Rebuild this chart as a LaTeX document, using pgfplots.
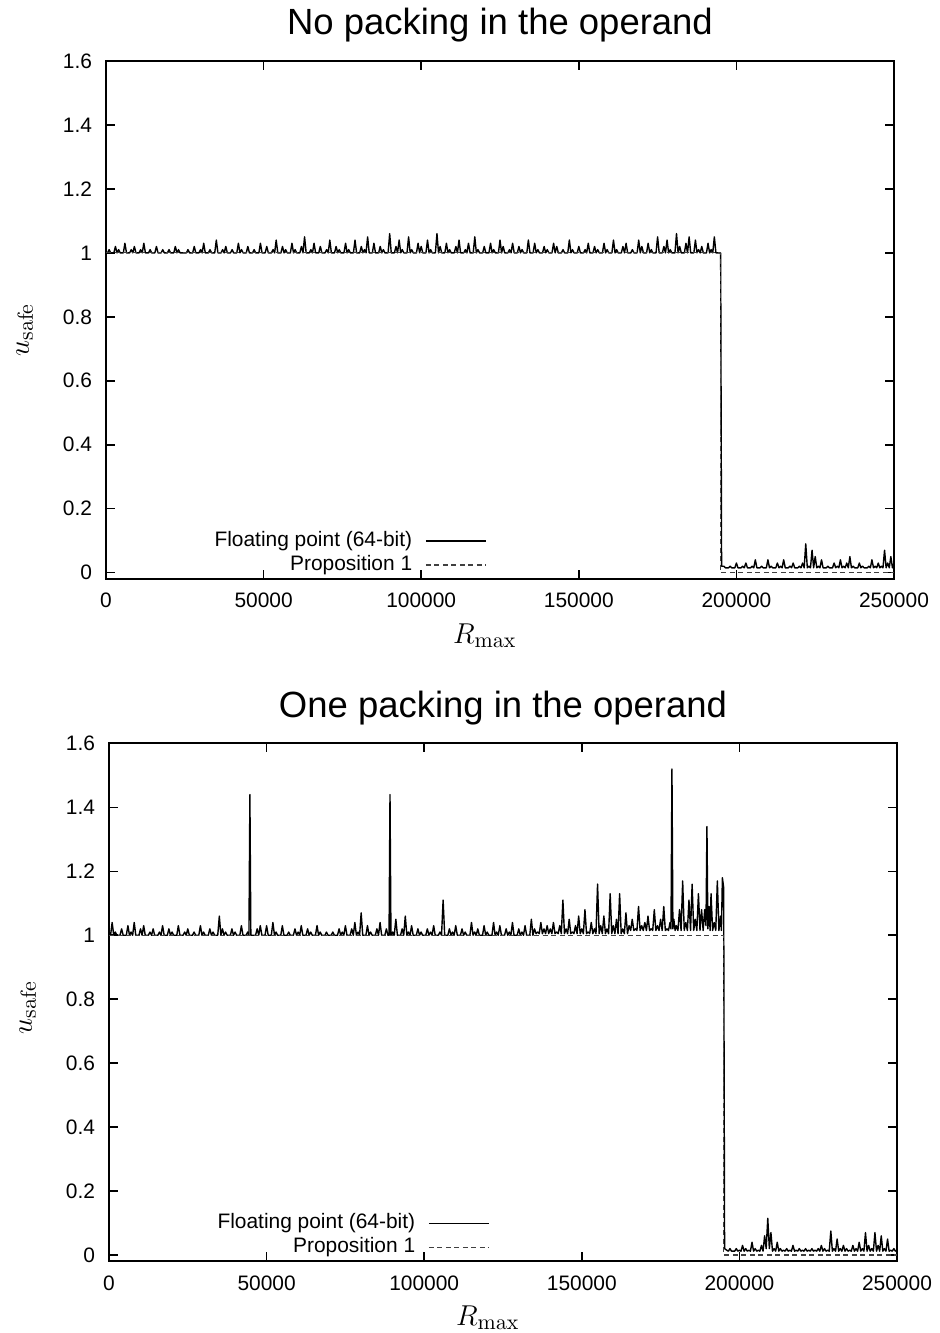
\documentclass[border=0pt]{standalone}
\usepackage[no-math]{fontspec}
\setmainfont{Liberation Sans}
\usepackage{pgfplots}
\usepackage{pgfplotstable}
\pgfplotsset{compat=1.18}

% axis labels: italic symbol with a lowered upright subscript
\newcommand\symlabel[2]{{\fontsize{13.5}{16}\selectfont$#1$}\raisebox{-2bp}{\fontsize{10.8}{13}\selectfont$\mathrm{#2}$}}

\pgfplotsset{
  safeaxis/.style={
    scale only axis, width=394bp, height=259bp,
    xmin=0, xmax=250000, ymin=-0.02, ymax=1.6,
    xtick={0,50000,100000,150000,200000,250000},
    xticklabels={0,50000,100000,150000,200000,250000},
    ytick={0,0.2,0.4,0.6,0.8,1,1.2,1.4,1.6},
    yticklabels={0,0.2,0.4,0.6,0.8,1,1.2,1.4,1.6},
    minor tick num=0,
    scaled x ticks=false,
    tick align=inside,
    major tick length=4.5bp,
    every tick/.style={black, line width=0.8bp},
    axis line style={line width=1bp},
    tick label style={font=\fontsize{10.5}{12}\selectfont},
    xticklabel style={yshift=-3.5bp},
    yticklabel style={xshift=-3.5bp},
    every axis title shift=0pt,
    title style={font=\fontsize{18.3}{21}\selectfont, anchor=base, at={(0.5,1)}, yshift=13bp},
    legend plot pos=right,
    legend cell align=right,
    legend style={draw=none, fill=none, anchor=south east, inner sep=0pt,
      font=\fontsize{10.5}{12}\selectfont, column sep=5.5bp, row sep=0pt,
      nodes={inner sep=1bp, text height=7.6bp, text depth=2.4bp}},
    legend image code/.code={\draw[##1] (0bp,0bp) -- (30bp,0bp);},
    xlabel={\symlabel{R}{max}},
    ylabel={\symlabel{u}{safe}},
    xlabel style={anchor=base},
    ylabel style={anchor=base},
  },
  fpline/.style={black, line width=0.7bp, line join=round},
  propline/.style={black!75, line width=0.6bp, dash pattern=on 2.5bp off 1.75bp},
}

\begin{document}

% u_safe, floating point, no packing (x in thousands)
\pgfplotstableread[row sep=\\]{
k y\\
0 1.00\\0.5 1.00\\1 1.01\\1.5 1.00\\2 1.00\\2.5 1.00\\3 1.02\\3.5 1.00\\4 1.01\\4.5 1.00\\
5 1.00\\5.5 1.00\\6 1.03\\6.5 1.00\\7 1.00\\7.5 1.00\\8 1.01\\8.5 1.00\\9 1.02\\9.5 1.00\\
10 1.00\\10.5 1.00\\11 1.01\\11.5 1.00\\12 1.03\\12.5 1.00\\13 1.00\\13.5 1.00\\14 1.01\\14.5 1.00\\
15 1.00\\15.5 1.00\\16 1.02\\16.5 1.00\\17 1.00\\17.5 1.00\\18 1.01\\18.5 1.00\\19 1.00\\19.5 1.00\\
20 1.01\\20.5 1.00\\21 1.00\\21.5 1.00\\22 1.02\\22.5 1.00\\23 1.01\\23.5 1.00\\24 1.00\\24.5 1.00\\
25 1.00\\25.5 1.00\\26 1.01\\26.5 1.00\\27 1.00\\27.5 1.00\\28 1.02\\28.5 1.00\\29 1.00\\29.5 1.00\\
30 1.01\\30.5 1.00\\31 1.03\\31.5 1.00\\32 1.00\\32.5 1.00\\33 1.01\\33.5 1.00\\34 1.00\\34.5 1.00\\
35 1.04\\35.5 1.00\\36 1.00\\36.5 1.00\\37 1.01\\37.5 1.00\\38 1.02\\38.5 1.00\\39 1.00\\39.5 1.00\\
40 1.01\\40.5 1.00\\41 1.00\\41.5 1.00\\42 1.03\\42.5 1.00\\43 1.01\\43.5 1.00\\44 1.00\\44.5 1.00\\
45 1.02\\45.5 1.00\\46 1.00\\46.5 1.00\\47 1.01\\47.5 1.00\\48 1.00\\48.5 1.00\\49 1.03\\49.5 1.00\\
50 1.00\\50.5 1.00\\51 1.02\\51.5 1.00\\52 1.00\\52.5 1.00\\53 1.01\\53.5 1.00\\54 1.04\\54.5 1.00\\
55 1.00\\55.5 1.00\\56 1.02\\56.5 1.00\\57 1.01\\57.5 1.00\\58 1.00\\58.5 1.00\\59 1.03\\59.5 1.00\\
60 1.01\\60.5 1.00\\61 1.00\\61.5 1.00\\62 1.02\\62.5 1.00\\63 1.05\\63.5 1.00\\64 1.00\\64.5 1.00\\
65 1.01\\65.5 1.00\\66 1.03\\66.5 1.00\\67 1.00\\67.5 1.00\\68 1.02\\68.5 1.00\\69 1.00\\69.5 1.00\\
70 1.01\\70.5 1.00\\71 1.04\\71.5 1.00\\72 1.00\\72.5 1.00\\73 1.02\\73.5 1.00\\74 1.01\\74.5 1.00\\
75 1.00\\75.5 1.00\\76 1.03\\76.5 1.00\\77 1.01\\77.5 1.00\\78 1.00\\78.5 1.00\\79 1.04\\79.5 1.00\\
80 1.00\\80.5 1.00\\81 1.02\\81.5 1.00\\82 1.01\\82.5 1.00\\83 1.05\\83.5 1.00\\84 1.00\\84.5 1.00\\
85 1.03\\85.5 1.00\\86 1.00\\86.5 1.00\\87 1.02\\87.5 1.00\\88 1.01\\88.5 1.00\\89 1.00\\89.5 1.00\\
90 1.06\\90.5 1.00\\91 1.00\\91.5 1.00\\92 1.02\\92.5 1.00\\93 1.04\\93.5 1.00\\94 1.01\\94.5 1.00\\
95 1.00\\95.5 1.00\\96 1.05\\96.5 1.00\\97 1.01\\97.5 1.00\\98 1.00\\98.5 1.00\\99 1.03\\99.5 1.00\\
100 1.02\\100.5 1.00\\101 1.00\\101.5 1.00\\102 1.04\\102.5 1.00\\103 1.01\\103.5 1.00\\104 1.00\\104.5 1.00\\
105 1.06\\105.5 1.00\\106 1.02\\106.5 1.00\\107 1.00\\107.5 1.00\\108 1.03\\108.5 1.00\\109 1.01\\109.5 1.00\\
110 1.00\\110.5 1.00\\111 1.02\\111.5 1.00\\112 1.04\\112.5 1.00\\113 1.00\\113.5 1.00\\114 1.01\\114.5 1.00\\
115 1.03\\115.5 1.00\\116 1.00\\116.5 1.00\\117 1.05\\117.5 1.00\\118 1.01\\118.5 1.00\\119 1.00\\119.5 1.00\\
120 1.02\\120.5 1.00\\121 1.00\\121.5 1.00\\122 1.03\\122.5 1.00\\123 1.01\\123.5 1.00\\124 1.00\\124.5 1.00\\
125 1.04\\125.5 1.00\\126 1.02\\126.5 1.00\\127 1.00\\127.5 1.00\\128 1.01\\128.5 1.00\\129 1.03\\129.5 1.00\\
130 1.00\\130.5 1.00\\131 1.02\\131.5 1.00\\132 1.01\\132.5 1.00\\133 1.00\\133.5 1.00\\134 1.04\\134.5 1.00\\
135 1.00\\135.5 1.00\\136 1.03\\136.5 1.00\\137 1.01\\137.5 1.00\\138 1.00\\138.5 1.00\\139 1.02\\139.5 1.00\\
140 1.01\\140.5 1.00\\141 1.00\\141.5 1.00\\142 1.03\\142.5 1.00\\143 1.02\\143.5 1.00\\144 1.00\\144.5 1.00\\
145 1.01\\145.5 1.00\\146 1.00\\146.5 1.00\\147 1.04\\147.5 1.00\\148 1.01\\148.5 1.00\\149 1.00\\149.5 1.00\\
150 1.02\\150.5 1.00\\151 1.00\\151.5 1.00\\152 1.01\\152.5 1.00\\153 1.03\\153.5 1.00\\154 1.00\\154.5 1.00\\
155 1.02\\155.5 1.00\\156 1.01\\156.5 1.00\\157 1.00\\157.5 1.00\\158 1.03\\158.5 1.00\\159 1.01\\159.5 1.00\\
160 1.00\\160.5 1.00\\161 1.04\\161.5 1.00\\162 1.01\\162.5 1.00\\163 1.00\\163.5 1.00\\164 1.02\\164.5 1.00\\
165 1.03\\165.5 1.00\\166 1.00\\166.5 1.00\\167 1.01\\167.5 1.00\\168 1.00\\168.5 1.00\\169 1.04\\169.5 1.00\\
170 1.02\\170.5 1.00\\171 1.00\\171.5 1.00\\172 1.03\\172.5 1.00\\173 1.01\\173.5 1.00\\174 1.00\\174.5 1.00\\
175 1.05\\175.5 1.00\\176 1.00\\176.5 1.00\\177 1.02\\177.5 1.00\\178 1.04\\178.5 1.00\\179 1.01\\179.5 1.00\\
180 1.00\\180.5 1.00\\181 1.06\\181.5 1.00\\182 1.02\\182.5 1.00\\183 1.00\\183.5 1.00\\184 1.03\\184.5 1.00\\
185 1.05\\185.5 1.00\\186 1.00\\186.5 1.00\\187 1.04\\187.5 1.00\\188 1.01\\188.5 1.00\\189 1.02\\189.5 1.00\\
190 1.00\\190.5 1.00\\191 1.03\\191.5 1.00\\192 1.01\\192.5 1.00\\193 1.05\\193.5 1.00\\194 1.00\\194.5 1.00\\
195 1.00\\195.3 0.02\\
196 0.02\\196.5 0.015\\197 0.015\\197.5 0.015\\198 0.02\\198.5 0.015\\199 0.015\\199.5 0.015\\
200 0.03\\200.5 0.015\\201 0.015\\201.5 0.015\\202 0.02\\202.5 0.015\\203 0.03\\203.5 0.015\\204 0.015\\204.5 0.015\\
205 0.02\\205.5 0.015\\206 0.04\\206.5 0.015\\207 0.015\\207.5 0.015\\208 0.02\\208.5 0.015\\209 0.015\\209.5 0.015\\
210 0.04\\210.5 0.015\\211 0.02\\211.5 0.015\\212 0.015\\212.5 0.015\\213 0.03\\213.5 0.015\\214 0.02\\214.5 0.015\\
215 0.04\\215.5 0.015\\216 0.015\\216.5 0.015\\217 0.02\\217.5 0.015\\218 0.03\\218.5 0.015\\219 0.015\\219.5 0.015\\
220 0.02\\220.5 0.015\\221 0.03\\221.5 0.015\\222 0.09\\222.5 0.015\\223 0.02\\223.5 0.015\\224 0.07\\224.5 0.015\\
225 0.05\\225.5 0.015\\226 0.02\\226.5 0.015\\227 0.04\\227.5 0.015\\228 0.015\\228.5 0.015\\229 0.02\\229.5 0.015\\
230 0.015\\230.5 0.015\\231 0.03\\231.5 0.015\\232 0.02\\232.5 0.015\\233 0.04\\233.5 0.015\\234 0.02\\234.5 0.015\\
235 0.03\\235.5 0.015\\236 0.05\\236.5 0.015\\237 0.02\\237.5 0.015\\238 0.015\\238.5 0.015\\239 0.03\\239.5 0.015\\
240 0.02\\240.5 0.015\\241 0.015\\241.5 0.015\\242 0.02\\242.5 0.015\\243 0.04\\243.5 0.015\\244 0.02\\244.5 0.015\\
245 0.03\\245.5 0.015\\246 0.02\\246.5 0.015\\247 0.07\\247.5 0.015\\248 0.03\\248.5 0.015\\249 0.05\\249.5 0.015\\
250 0.03\\
}\fpnopack

% u_safe, floating point, one packing (x in thousands)
\pgfplotstableread[row sep=\\]{
k y\\
0 1.00\\0.5 1.00\\1 1.04\\1.5 1.00\\2 1.01\\2.5 1.00\\3 1.00\\3.5 1.00\\4 1.02\\4.5 1.00\\
5 1.00\\5.5 1.00\\6 1.03\\6.5 1.00\\7 1.01\\7.5 1.00\\8 1.04\\8.5 1.00\\9 1.00\\9.5 1.00\\
10 1.02\\10.5 1.00\\11 1.03\\11.5 1.00\\12 1.00\\12.5 1.00\\13 1.01\\13.5 1.00\\14 1.02\\14.5 1.00\\
15 1.00\\15.5 1.00\\16 1.01\\16.5 1.00\\17 1.03\\17.5 1.00\\18 1.00\\18.5 1.00\\19 1.02\\19.5 1.00\\
20 1.01\\20.5 1.00\\21 1.00\\21.5 1.00\\22 1.03\\22.5 1.00\\23 1.00\\23.5 1.00\\24 1.01\\24.5 1.00\\
25 1.02\\25.5 1.00\\26 1.00\\26.5 1.00\\27 1.01\\27.5 1.00\\28 1.00\\28.5 1.00\\29 1.03\\29.5 1.00\\
30 1.01\\30.5 1.00\\31 1.00\\31.5 1.00\\32 1.02\\32.5 1.00\\33 1.01\\33.5 1.00\\34 1.00\\34.5 1.00\\
35 1.06\\35.5 1.00\\36 1.02\\36.5 1.00\\37 1.01\\37.5 1.00\\38 1.00\\38.5 1.00\\39 1.02\\39.5 1.00\\
40 1.01\\40.5 1.00\\41 1.00\\41.5 1.00\\42 1.03\\42.5 1.00\\43 1.00\\43.5 1.00\\44 1.01\\44.4 1.00\\
44.7 1.44\\45 1.00\\45.5 1.00\\46 1.00\\46.5 1.00\\47 1.02\\47.5 1.00\\48 1.03\\48.5 1.00\\49 1.00\\49.5 1.00\\
50 1.03\\50.5 1.00\\51 1.00\\51.5 1.00\\52 1.04\\52.5 1.00\\53 1.01\\53.5 1.00\\54 1.00\\54.5 1.00\\
55 1.03\\55.5 1.00\\56 1.00\\56.5 1.00\\57 1.01\\57.5 1.00\\58 1.00\\58.5 1.00\\59 1.02\\59.5 1.00\\
60 1.01\\60.5 1.00\\61 1.03\\61.5 1.00\\62 1.00\\62.5 1.00\\63 1.02\\63.5 1.00\\64 1.01\\64.5 1.00\\
65 1.00\\65.5 1.00\\66 1.03\\66.5 1.00\\67 1.01\\67.5 1.00\\68 1.00\\68.5 1.00\\69 1.01\\69.5 1.00\\
70 1.00\\70.5 1.00\\71 1.01\\71.5 1.00\\72 1.00\\72.5 1.00\\73 1.02\\73.5 1.00\\74 1.01\\74.5 1.00\\
75 1.03\\75.5 1.00\\76 1.00\\76.5 1.00\\77 1.02\\77.5 1.00\\78 1.04\\78.5 1.00\\79 1.01\\79.5 1.00\\
80 1.07\\80.5 1.00\\81 1.00\\81.5 1.00\\82 1.03\\82.5 1.00\\83 1.01\\83.5 1.00\\84 1.00\\84.5 1.00\\
85 1.02\\85.5 1.00\\86 1.04\\86.5 1.00\\87 1.00\\87.5 1.00\\88 1.02\\88.5 1.00\\88.85 1.00\\89.15 1.44\\89.45 1.00\\89.7 1.00\\
90 1.01\\90.5 1.00\\91 1.05\\91.5 1.00\\92 1.00\\92.5 1.00\\93 1.02\\93.5 1.00\\94 1.06\\94.5 1.00\\
95 1.01\\95.5 1.00\\96 1.03\\96.5 1.00\\97 1.00\\97.5 1.00\\98 1.02\\98.5 1.00\\99 1.01\\99.5 1.00\\
100 1.00\\100.5 1.00\\101 1.02\\101.5 1.00\\102 1.01\\102.5 1.00\\103 1.03\\103.5 1.00\\104 1.00\\104.5 1.00\\
105 1.01\\105.5 1.00\\106 1.11\\106.5 1.00\\107 1.00\\107.5 1.00\\108 1.02\\108.5 1.00\\109 1.01\\109.5 1.00\\
110 1.03\\110.5 1.00\\111 1.00\\111.5 1.00\\112 1.02\\112.5 1.00\\113 1.01\\113.5 1.00\\114 1.00\\114.5 1.00\\
115 1.04\\115.5 1.00\\116 1.01\\116.5 1.00\\117 1.02\\117.5 1.00\\118 1.00\\118.5 1.00\\119 1.03\\119.5 1.00\\
120 1.01\\120.5 1.00\\121 1.00\\121.5 1.00\\122 1.04\\122.5 1.00\\123 1.01\\123.5 1.00\\124 1.03\\124.5 1.00\\
125 1.00\\125.5 1.00\\126 1.02\\126.5 1.00\\127 1.01\\127.5 1.00\\128 1.04\\128.5 1.00\\129 1.00\\129.5 1.00\\
130 1.02\\130.5 1.00\\131 1.01\\131.5 1.00\\132 1.03\\132.5 1.00\\133 1.00\\133.5 1.00\\134 1.05\\134.5 1.00\\
135 1.02\\135.5 1.005\\136 1.01\\136.5 1.005\\137 1.04\\137.5 1.005\\138 1.02\\138.5 1.005\\139 1.03\\139.5 1.005\\
140 1.02\\140.5 1.005\\141 1.04\\141.5 1.005\\142 1.01\\142.5 1.005\\143 1.03\\143.5 1.005\\144 1.11\\144.5 1.005\\
145 1.02\\145.5 1.005\\146 1.05\\146.5 1.005\\147 1.01\\147.5 1.005\\148 1.03\\148.5 1.005\\149 1.06\\149.5 1.005\\
150 1.02\\150.5 1.005\\151 1.08\\151.5 1.005\\152 1.01\\152.5 1.005\\153 1.04\\153.5 1.005\\154 1.02\\154.5 1.005\\
155 1.16\\155.5 1.005\\156 1.03\\156.5 1.005\\157 1.06\\157.5 1.005\\158 1.02\\158.5 1.005\\159 1.13\\159.5 1.005\\
160 1.03\\160.5 1.005\\161 1.05\\161.5 1.005\\162 1.13\\162.5 1.005\\163 1.02\\163.5 1.005\\164 1.07\\164.5 1.005\\
165 1.03\\165.5 1.015\\166 1.05\\166.5 1.015\\167 1.02\\167.5 1.015\\168 1.09\\168.5 1.015\\169 1.03\\169.5 1.015\\
170 1.04\\170.5 1.015\\171 1.06\\171.5 1.015\\172 1.02\\172.5 1.015\\173 1.08\\173.5 1.015\\174 1.03\\174.5 1.015\\
175 1.05\\175.5 1.015\\176 1.09\\176.5 1.015\\177 1.02\\177.5 1.015\\178 1.04\\178.3 1.02\\178.6 1.52\\178.9 1.02\\179.2 1.05\\179.6 1.015\\
180 1.03\\180.5 1.015\\181 1.08\\181.5 1.015\\182 1.17\\182.5 1.015\\183 1.04\\183.5 1.015\\184 1.11\\184.5 1.015\\
185 1.16\\185.5 1.015\\186 1.05\\186.5 1.015\\187 1.13\\187.5 1.015\\188 1.08\\188.5 1.015\\189 1.08\\189.4 1.03\\189.7 1.34\\190 1.02\\
190.4 1.09\\190.7 1.015\\191 1.13\\191.5 1.015\\192 1.04\\192.5 1.015\\193 1.17\\193.5 1.015\\194 1.06\\194.3 1.015\\194.6 1.18\\195 1.15\\195.3 0.02\\
196 0.015\\196.5 0.012\\197 0.02\\197.5 0.012\\198 0.012\\198.5 0.012\\199 0.02\\199.5 0.012\\
200 0.015\\200.5 0.012\\201 0.03\\201.5 0.012\\202 0.02\\202.5 0.012\\203 0.015\\203.5 0.012\\204 0.04\\204.5 0.012\\
205 0.02\\205.5 0.012\\206 0.015\\206.5 0.012\\207 0.03\\207.5 0.012\\208 0.06\\208.5 0.02\\209 0.115\\209.5 0.02\\
210 0.07\\210.5 0.012\\211 0.02\\211.5 0.012\\212 0.04\\212.5 0.012\\213 0.02\\213.5 0.012\\214 0.015\\214.5 0.012\\
215 0.02\\215.5 0.012\\216 0.015\\216.5 0.012\\217 0.03\\217.5 0.012\\218 0.015\\218.5 0.012\\219 0.02\\219.5 0.012\\
220 0.015\\220.5 0.012\\221 0.02\\221.5 0.012\\222 0.015\\222.5 0.012\\223 0.02\\223.5 0.012\\224 0.015\\224.5 0.012\\
225 0.02\\225.5 0.012\\226 0.03\\226.5 0.012\\227 0.02\\227.5 0.012\\228 0.015\\228.5 0.012\\229 0.075\\229.5 0.012\\
230 0.02\\230.5 0.012\\231 0.05\\231.5 0.012\\232 0.02\\232.5 0.012\\233 0.03\\233.5 0.012\\234 0.02\\234.5 0.012\\
235 0.015\\235.5 0.012\\236 0.03\\236.5 0.012\\237 0.02\\237.5 0.012\\238 0.04\\238.5 0.012\\239 0.02\\239.5 0.012\\
240 0.07\\240.5 0.012\\241 0.03\\241.5 0.012\\242 0.02\\242.5 0.012\\243 0.07\\243.5 0.012\\244 0.03\\244.5 0.012\\
245 0.06\\245.5 0.012\\246 0.02\\246.5 0.012\\247 0.05\\247.5 0.012\\248 0.015\\248.5 0.012\\249 0.02\\249.5 0.012\\
250 0.015\\
}\fponepack

% Proposition 1 bound (x in thousands)
\pgfplotstableread{
k y
0 1
195 1
195 0
250 0
}\propbound

\begin{tikzpicture}
\useasboundingbox (0,0) rectangle (470bp,-666.5bp);

\begin{axis}[safeaxis,
  at={(53bp,-289.5bp)}, anchor=south west,
  title={No packing in the operand},
  xlabel style={at={(0.48,-0.124)}},
  ylabel style={at={(-0.098,0.48)}},
  legend style={at={(0.4835,0.003)}},
]
\addplot[fpline] table[x expr=1000*\thisrow{k}, y=y] {\fpnopack};
\addlegendentry{Floating point (64-bit)}
\addplot[propline] table[x expr=1000*\thisrow{k}, y=y] {\propbound};
\addlegendentry{Proposition 1}
\end{axis}

\begin{axis}[safeaxis,
  at={(54.5bp,-630.7bp)}, anchor=south west,
  title={One packing in the operand},
  xlabel style={at={(0.48,-0.124)}},
  ylabel style={at={(-0.098,0.489)}},
  legend style={at={(0.4835,0.003)}},
]
\addplot[fpline] table[x expr=1000*\thisrow{k}, y=y] {\fponepack};
\addlegendentry{Floating point (64-bit)}
\addplot[propline] table[x expr=1000*\thisrow{k}, y=y] {\propbound};
\addlegendentry{Proposition 1}
\end{axis}
\end{tikzpicture}
\end{document}
